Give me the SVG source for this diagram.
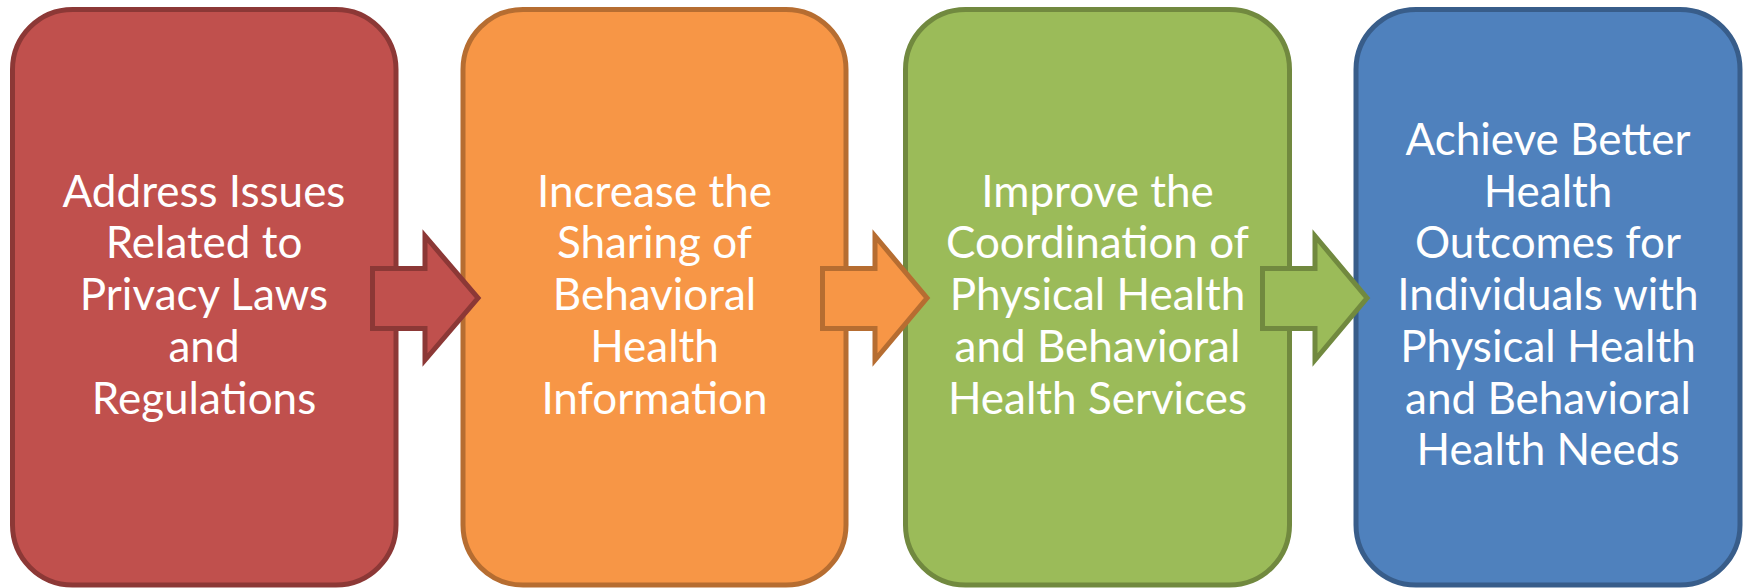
<svg xmlns="http://www.w3.org/2000/svg" width="1751" height="588" viewBox="0 0 1751 588">
<style>
.box{stroke-width:5}
.arr{stroke-width:5;stroke-linejoin:miter}
.t{font-family:Lato,"Open Sans","Liberation Sans",sans-serif;font-size:44px;fill:#FFFFFF;text-anchor:middle}
.red{fill:#C0504D;stroke:#8C3836}
.orange{fill:#F79646;stroke:#B66D31}
.green{fill:#9BBB59;stroke:#71893F}
.blue{fill:#4F81BD;stroke:#385D8A}
</style>
<rect width="1751" height="588" fill="#FFFFFF"/>
<g id="node1">
<rect class="box red" x="12.5" y="9.5" width="383.5" height="575.5" rx="60" ry="60"/>
<text class="t"><tspan x="204" y="206.7">Address Issues</tspan><tspan x="204" y="258.4">Related to</tspan><tspan x="204" y="310.1">Privacy Laws</tspan><tspan x="204" y="361.8">and</tspan><tspan x="204" y="413.5">Regulations</tspan></text>
</g>
<g id="node2">
<rect class="box orange" x="463" y="9.5" width="383" height="575.5" rx="60" ry="60"/>
<text class="t"><tspan x="654.5" y="206.7">Increase the</tspan><tspan x="654.5" y="258.4">Sharing of</tspan><tspan x="654.5" y="310.1">Behavioral</tspan><tspan x="654.5" y="361.8">Health</tspan><tspan x="654.5" y="413.5">Information</tspan></text>
</g>
<g id="node3">
<rect class="box green" x="905.5" y="9.5" width="384" height="575.5" rx="60" ry="60"/>
<text class="t"><tspan x="1097.5" y="206.7">Improve the</tspan><tspan x="1097.5" y="258.4">Coordination of</tspan><tspan x="1097.5" y="310.1">Physical Health</tspan><tspan x="1097.5" y="361.8">and Behavioral</tspan><tspan x="1097.5" y="413.5">Health Services</tspan></text>
</g>
<g id="node4">
<rect class="box blue" x="1356" y="9.5" width="384" height="575.5" rx="60" ry="60"/>
<text class="t"><tspan x="1548" y="155">Achieve Better</tspan><tspan x="1548" y="206.7">Health</tspan><tspan x="1548" y="258.4">Outcomes for</tspan><tspan x="1548" y="310.1">Individuals with</tspan><tspan x="1548" y="361.8">Physical Health</tspan><tspan x="1548" y="413.5">and Behavioral</tspan><tspan x="1548" y="465.2">Health Needs</tspan></text>
</g>
<g id="connectors">
<polygon class="arr red" points="372.5,268.5 425,268.5 425,236 478,298 425,360 425,328.5 372.5,328.5"/>
<polygon class="arr orange" points="822.5,268.5 875,268.5 875,236 927,298 875,360 875,328.5 822.5,328.5"/>
<polygon class="arr green" points="1262.5,268.5 1315,268.5 1315,236 1367,298 1315,360 1315,328.5 1262.5,328.5"/>
</g>
</svg>
